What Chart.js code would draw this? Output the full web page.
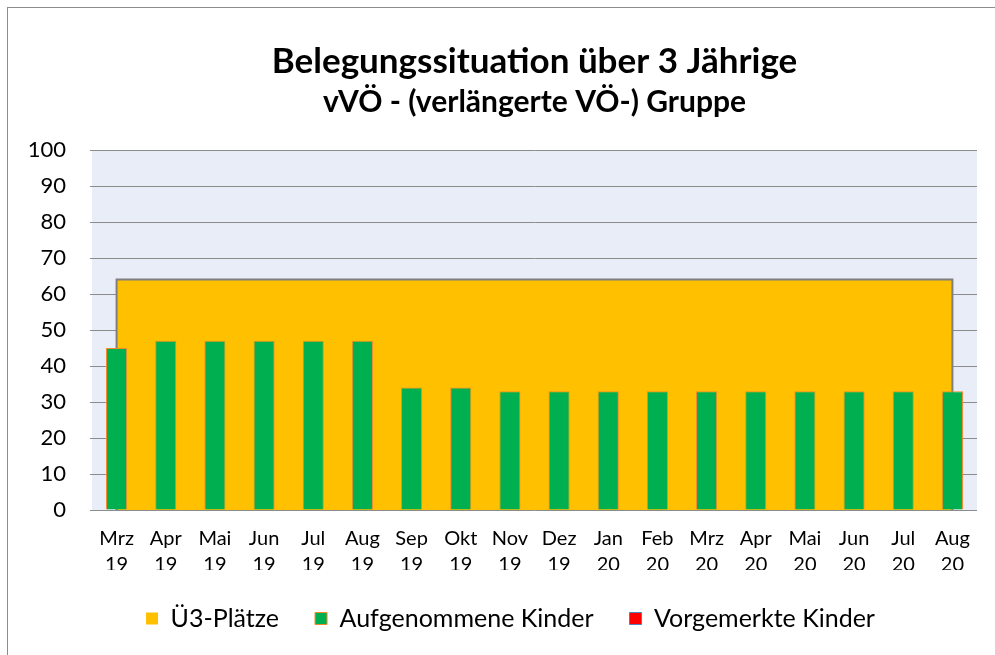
<!DOCTYPE html>
<html>
<head>
<meta charset="utf-8">
<script src="https://cdn.jsdelivr.net/npm/chart.js@4"></script>
<style>
  html, body { margin: 0; padding: 0; background: #fff; }
  #wrap { position: relative; width: 995px; height: 655px; }
  #frame { position: absolute; left: 7px; top: 7px; width: 1000px; height: 700px;
           border-left: 1px solid #8c8c8c; border-top: 1px solid #8c8c8c; pointer-events: none; }
</style>
</head>
<body>
<div id="wrap">
  <canvas id="chart" width="995" height="655"></canvas>
  <div id="frame"></div>
</div>
<script>
const months = [
  ["Mrz", "19"], ["Apr", "19"], ["Mai", "19"], ["Jun", "19"], ["Jul", "19"], ["Aug", "19"],
  ["Sep", "19"], ["Okt", "19"], ["Nov", "19"], ["Dez", "19"], ["Jan", "20"], ["Feb", "20"],
  ["Mrz", "20"], ["Apr", "20"], ["Mai", "20"], ["Jun", "20"], ["Jul", "20"], ["Aug", "20"]
];
const plaetze = [64, 64, 64, 64, 64, 64, 64, 64, 64, 64, 64, 64, 64, 64, 64, 64, 64, 64];
const aufgenommen = [45, 47, 47, 47, 47, 47, 34, 34, 33, 33, 33, 33, 33, 33, 33, 33, 33, 33];
const vorgemerkt = [null, null, null, null, null, null, null, null, null, null, null, null, null, null, null, null, null, null];
const yTicks = [0, 10, 20, 30, 40, 50, 60, 70, 80, 90, 100];

const FONT = "Lato, 'Open Sans', sans-serif";

// light blue background behind the plot area
const plotBg = {
  id: "plotBg",
  beforeDraw(chart) {
    const { ctx, chartArea: a } = chart;
    ctx.save();
    ctx.fillStyle = "#e9edf7";
    ctx.fillRect(a.left, a.top, a.right - a.left, a.bottom - a.top);
    ctx.restore();
  }
};

// Excel draws the area outline down both ends too, not just along the top
const areaOutline = {
  id: "areaOutline",
  afterDatasetDraw(chart, args) {
    if (args.index !== 0) return;
    const pts = args.meta.data;
    if (!pts.length) return;
    const base = chart.scales.y.getPixelForValue(0);
    const ctx = chart.ctx;
    ctx.save();
    ctx.strokeStyle = "#7f7f7f";
    ctx.lineWidth = 2;
    ctx.beginPath();
    ctx.moveTo(pts[0].x, base);
    pts.forEach(p => ctx.lineTo(p.x, p.y));
    ctx.lineTo(pts[pts.length - 1].x, base);
    ctx.stroke();
    ctx.restore();
  }
};

new Chart(document.getElementById("chart"), {
  type: "bar",
  data: {
    labels: months,
    datasets: [
      {
        type: "line",
        label: "Ü3-Plätze",
        data: plaetze,
        backgroundColor: "#ffc000",
        borderColor: "#7f7f7f",
        borderWidth: 0,
        pointRadius: 0,
        fill: "origin",
        tension: 0,
        stack: "area",
        order: 2
      },
      {
        label: "Aufgenommene Kinder",
        data: aufgenommen,
        backgroundColor: "#00b050",
        borderColor: "#f08a2c",
        borderWidth: 1,
        barPercentage: 0.43,
        categoryPercentage: 1,
        stack: "kinder",
        order: 1
      },
      {
        label: "Vorgemerkte Kinder",
        data: vorgemerkt,
        backgroundColor: "#ff0000",
        borderColor: "#4f81bd",
        borderWidth: 1,
        barPercentage: 0.43,
        categoryPercentage: 1,
        stack: "kinder",
        order: 0
      }
    ]
  },
  options: {
    responsive: false,
    animation: false,
    layout: { padding: { left: 26, right: 0, bottom: 14 } },
    plugins: {
      title: {
        display: true,
        fullSize: false,
        text: "Belegungssituation über 3 Jährige",
        color: "#000",
        font: { family: FONT, size: 35, weight: "bold" },
        padding: { top: 41, bottom: 1 }
      },
      subtitle: {
        display: true,
        fullSize: false,
        text: "vVÖ - (verlängerte VÖ-) Gruppe",
        color: "#000",
        font: { family: FONT, size: 30, weight: "bold" },
        padding: { bottom: 30 }
      },
      legend: {
        position: "bottom",
        labels: {
          color: "#000",
          font: { family: FONT, size: 25 },
          boxWidth: 12,
          boxHeight: 12,
          padding: 36,
          sort: (a, b) => a.datasetIndex - b.datasetIndex
        }
      },
      tooltip: { enabled: false }
    },
    scales: {
      x: {
        stacked: true,
        // legend padding adds blank space above the legend; let the axis overlap it
        afterFit(scale) { scale.height -= 16; },
        grid: { display: false },
        border: { display: false },
        ticks: {
          color: "#000",
          font: { family: FONT, size: 20, lineHeight: 1.3 },
          padding: 8,
          maxRotation: 0,
          autoSkip: false
        }
      },
      y: {
        stacked: true,
        min: 0,
        max: 100,
        afterFit(scale) { scale.width = 66; },
        afterBuildTicks(scale) { scale.ticks = yTicks.map(v => ({ value: v })); },
        grid: { color: "#8c8c8c", lineWidth: 1, tickLength: 2 },
        border: { display: false },
        ticks: {
          color: "#000",
          font: { family: FONT, size: 22 },
          padding: 24
        }
      },
      // empty right-hand spacer so the plot ends where Excel's does
      spacer: {
        type: "linear",
        position: "right",
        afterFit(scale) { scale.width = 18; },
        grid: { display: false },
        border: { display: false },
        ticks: { display: false }
      }
    }
  },
  plugins: [plotBg, areaOutline]
});
</script>
</body>
</html>
